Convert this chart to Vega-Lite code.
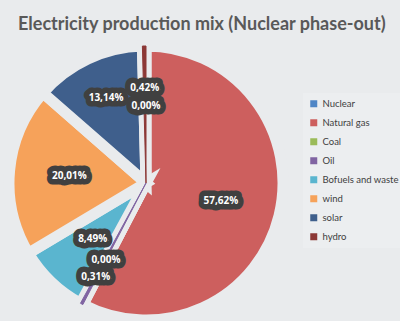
{
  "$schema": "https://vega.github.io/schema/vega-lite/v6.json",
  "autosize": {"type": "none"},
  "padding": {"left": 0, "top": 50, "right": 108, "bottom": 5},
  "width": 292,
  "height": 266,
  "background": "#e9ebed",
  "config": {
    "view": {"stroke": null},
    "locale": {"number": {"decimal": ",", "thousands": ".", "grouping": [3], "currency": ["", " €"]}}
  },
  "title": {
    "text": "Electricity production mix (Nuclear phase-out)",
    "anchor": "start",
    "frame": "group",
    "dx": 18,
    "dy": 20,
    "offset": 10,
    "font": "Lato",
    "fontSize": 18,
    "fontWeight": "bold",
    "color": "#595959"
  },
  "data": {
    "values": [
      {"idx": 1, "source": "Nuclear", "share": 0},
      {"idx": 2, "source": "Natural gas", "share": 0.5762},
      {"idx": 3, "source": "Coal", "share": 0},
      {"idx": 4, "source": "Oil", "share": 0.0031},
      {"idx": 5, "source": "Bofuels and waste", "share": 0.0849},
      {"idx": 6, "source": "wind", "share": 0.2001},
      {"idx": 7, "source": "solar", "share": 0.1314},
      {"idx": 8, "source": "hydro", "share": 0.0042}
    ]
  },
  "encoding": {
    "theta": {"field": "share", "type": "quantitative", "stack": true},
    "order": {"field": "idx", "type": "quantitative"}
  },
  "layer": [
    {
      "mark": {"type": "arc", "outerRadius": 137, "stroke": "#e9ebed", "strokeWidth": 11},
      "encoding": {
        "color": {
          "field": "source",
          "type": "nominal",
          "sort": null,
          "scale": {
            "domain": ["Nuclear", "Natural gas", "Coal", "Oil", "Bofuels and waste", "wind", "solar", "hydro"],
            "range": ["#4f86c6", "#cd5f5e", "#9bbb59", "#8064a2", "#5ab5cf", "#f6a25a", "#3f5f8c", "#8c3836"]
          },
          "legend": {
            "title": null,
            "orient": "none",
            "legendX": 303,
            "legendY": 43,
            "symbolType": "square",
            "symbolSize": 49,
            "symbolStrokeWidth": 0,
            "labelFont": "Lato",
            "labelFontSize": 9.5,
            "labelOffset": 4,
            "labelColor": "#404040",
            "labelLimit": 100,
            "rowPadding": 8,
            "padding": 6,
            "fillColor": "#eceef0"
          }
        }
      }
    },
    {
      "mark": {"type": "arc", "outerRadius": 137, "strokeWidth": 1},
      "encoding": {
        "fill": {
          "field": "source",
          "type": "nominal",
          "scale": {
            "domain": ["Nuclear", "Natural gas", "Coal", "Oil", "Bofuels and waste", "wind", "solar", "hydro"],
            "range": ["#4f86c6", "#cd5f5e", "#9bbb59", "#8064a2", "#5ab5cf", "#f6a25a", "#3f5f8c", "#8c3836"]
          },
          "legend": null
        },
        "stroke": {
          "field": "source",
          "type": "nominal",
          "scale": {
            "domain": ["Nuclear", "Natural gas", "Coal", "Oil", "Bofuels and waste", "wind", "solar", "hydro"],
            "range": ["#4f86c6", "#cd5f5e", "#9bbb59", "#8064a2", "#5ab5cf", "#f6a25a", "#3f5f8c", "#8c3836"]
          },
          "legend": null
        },
        "opacity": {
          "condition": {"test": "datum.source === 'Oil' || datum.source === 'hydro'", "value": 1},
          "value": 0
        }
      }
    },
    {
      "mark": {
        "type": "text",
        "font": "Open Sans",
        "fontSize": 10,
        "fontWeight": "bold",
        "fill": "#404040",
        "stroke": "#404040",
        "strokeWidth": 11,
        "strokeJoin": "round"
      },
      "encoding": {
        "text": {"field": "share", "type": "quantitative", "format": ".2%"},
        "radius": {"value": {"expr": "datum.source === 'hydro' ? 95 : datum.source === 'Coal' ? 87 : datum.source === 'Oil' ? 107 : datum.source === 'solar' ? 94 : 77"}}
      }
    },
    {
      "mark": {
        "type": "text",
        "font": "Open Sans",
        "fontSize": 10,
        "fontWeight": "bold",
        "fill": "#ffffff"
      },
      "encoding": {
        "text": {"field": "share", "type": "quantitative", "format": ".2%"},
        "radius": {"value": {"expr": "datum.source === 'hydro' ? 95 : datum.source === 'Coal' ? 87 : datum.source === 'Oil' ? 107 : datum.source === 'solar' ? 94 : 77"}}
      }
    }
  ]
}
